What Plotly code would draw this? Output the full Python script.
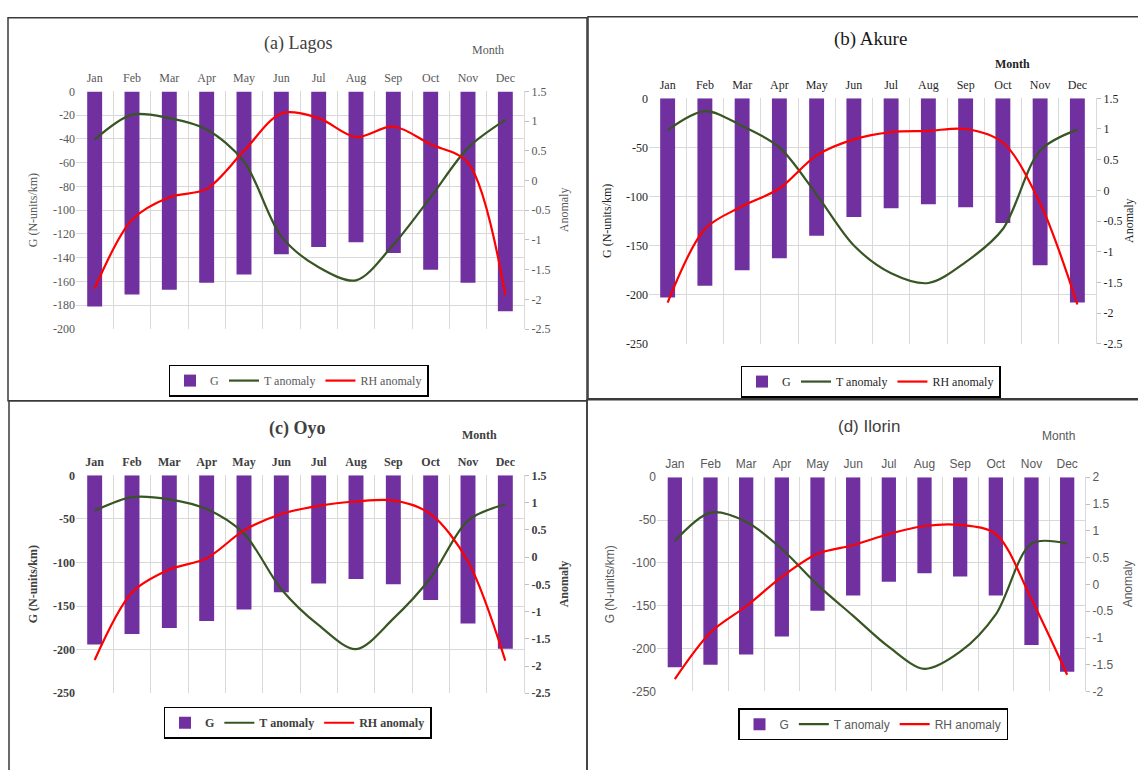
import plotly.graph_objects as go

W, H = 1138, 770

months = ["Jan", "Feb", "Mar", "Apr", "May", "Jun", "Jul", "Aug", "Sep", "Oct", "Nov", "Dec"]

# (a) Lagos
lagos_G = [-181, -171, -167, -161, -154, -137, -131, -127, -136, -150, -161, -185]
lagos_T = [0.69, 1.11, 1.05, 0.86, 0.32, -0.94, -1.46, -1.68, -1.08, -0.28, 0.55, 1.02]
lagos_RH = [-1.82, -0.66, -0.28, -0.14, 0.50, 1.13, 1.05, 0.73, 0.91, 0.61, 0.30, -1.93]
# (b) Akure
akure_G = [-203, -191, -175, -163, -140, -121, -112, -108, -111, -127, -170, -208]
akure_T = [0.98, 1.29, 1.05, 0.70, -0.07, -0.90, -1.35, -1.51, -1.17, -0.63, 0.65, 0.99]
akure_RH = [-1.83, -0.63, -0.26, 0.03, 0.57, 0.83, 0.95, 0.97, 1.00, 0.78, -0.21, -1.86]
# (c) Oyo
oyo_G = [-194, -182, -175, -167, -154, -134, -124, -119, -125, -143, -170, -199]
oyo_T = [0.85, 1.10, 1.06, 0.88, 0.43, -0.59, -1.25, -1.69, -1.13, -0.38, 0.67, 0.97]
oyo_RH = [-1.89, -0.65, -0.23, -0.02, 0.49, 0.79, 0.94, 1.02, 1.04, 0.79, -0.08, -1.90]
# (d) Ilorin
ilorin_G = [-222, -219, -207, -186, -156, -138, -122, -112, -116, -138, -196, -227]
ilorin_T = [0.81, 1.34, 1.17, 0.66, -0.01, -0.59, -1.17, -1.58, -1.26, -0.56, 0.76, 0.76]
ilorin_RH = [-1.77, -0.90, -0.41, 0.14, 0.57, 0.73, 0.94, 1.09, 1.11, 0.94, -0.28, -1.69]

# tick values
g_ticks_a = [0, -20, -40, -60, -80, -100, -120, -140, -160, -180, -200]
g_ticks_bcd = [0, -50, -100, -150, -200, -250]
anom_ticks_abc = [1.5, 1, 0.5, 0, -0.5, -1, -1.5, -2, -2.5]
anom_ticks_d = [2, 1.5, 1, 0.5, 0, -0.5, -1, -1.5, -2]

titles = ["(a) Lagos", "(b) Akure", "(c) Oyo", "(d) Ilorin"]
series_names = ["G", "T anomaly", "RH anomaly"]

PURPLE = "#7030A0"
GREEN = "#375623"
RED = "#FF0000"
GRID = "#D9D9D9"


def fmt(v):
    return "%g" % v


panels = [
    dict(G=lagos_G, T=lagos_T, RH=lagos_RH, title=titles[0], gt=g_ticks_a, gr=[-200, 0],
         at=anom_ticks_abc, ar=[-2.5, 1.5],
         px=(76, 524), py=(86, 328), font="Liberation Serif", color="#595959", tcolor="#404040", bold=False,
         tsize=18, tpos=(298, 37), mpos=(488, 44), mbold=False,
         leg=(168, 429, 368, 393), ytl=33, ytr=564, border=(8, 587, 11, 401)),
    dict(G=akure_G, T=akure_T, RH=akure_RH, title=titles[1], gt=g_ticks_bcd, gr=[-250, 0],
         at=anom_ticks_abc, ar=[-2.5, 1.5],
         px=(649, 1096), py=(93, 343), font="Liberation Serif", color="#1f1f1f", tcolor="#1a1a1a", bold=False,
         tsize=19, tpos=(870, 33), mpos=(1012, 58), mbold=True,
         leg=(740, 1001, 368, 395), ytl=607, ytr=1129, border=(588, 1145, 10, 399)),
    dict(G=oyo_G, T=oyo_T, RH=oyo_RH, title=titles[2], gt=g_ticks_bcd, gr=[-250, 0],
         at=anom_ticks_abc, ar=[-2.5, 1.5],
         px=(76, 524), py=(477, 699), font="Liberation Serif", color="#404040", tcolor="#404040", bold=True,
         tsize=18, tpos=(297, 429), mpos=(479, 436), mbold=True,
         leg=(134, 461, 715, 743), ytl=33, ytr=564, border=(9, 587, 401, 780)),
    dict(G=ilorin_G, T=ilorin_T, RH=ilorin_RH, title=titles[3], gt=g_ticks_bcd, gr=[-250, 0],
         at=anom_ticks_d, ar=[-2, 2],
         px=(657, 1085), py=(479, 697), font="Liberation Sans", color="#595959", tcolor="#404040", bold=False,
         tsize=17, tpos=(869, 427), mpos=(1058, 437), mbold=False,
         leg=(723, 1023, 716, 745), ytl=610, ytr=1128, border=(587, 1145, 400, 780)),
]

fig = go.Figure()
layout = dict(width=W, height=H, margin=dict(l=0, r=0, t=0, b=0), plot_bgcolor="white",
              paper_bgcolor="white", showlegend=True, barmode="overlay")
annotations = []
shapes = []


def b(text, bold):
    return "<b>%s</b>" % text if bold else text


for i, p in enumerate(panels):
    k = i + 1
    xa = "x" if k == 1 else "x%d" % k
    yl = 2 * i + 1
    yr = 2 * i + 2
    ya_l = "y" if yl == 1 else "y%d" % yl
    ya_r = "y%d" % yr
    leg = "legend" if k == 1 else "legend%d" % k
    fw = "bold" if p["bold"] else "normal"

    fig.add_trace(go.Bar(x=months, y=p["G"], name=series_names[0], marker=dict(color=PURPLE, line=dict(width=0)),
                         width=0.4, xaxis=xa, yaxis=ya_l, legend=leg))
    fig.add_trace(go.Scatter(x=months, y=p["T"], name=series_names[1], mode="lines",
                             line=dict(color=GREEN, width=2.2, shape="spline", smoothing=0.9),
                             xaxis=xa, yaxis=ya_r, legend=leg))
    fig.add_trace(go.Scatter(x=months, y=p["RH"], name=series_names[2], mode="lines",
                             line=dict(color=RED, width=2.2, shape="spline", smoothing=0.9),
                             xaxis=xa, yaxis=ya_r, legend=leg))

    xdom = [p["px"][0] / W, p["px"][1] / W]
    ydom = [1 - p["py"][1] / H, 1 - p["py"][0] / H]
    xkey = "xaxis" if k == 1 else "xaxis%d" % k
    ylkey = "yaxis" if yl == 1 else "yaxis%d" % yl
    yrkey = "yaxis%d" % yr
    tfont = dict(family=p["font"], color=p["color"], size=12, weight=fw)

    layout[xkey] = dict(domain=xdom, anchor=ya_l, side="top", type="category",
                        tickson="boundaries", showgrid=True, gridcolor=GRID, gridwidth=1,
                        ticks="", showline=False, zeroline=False, ticklabelstandoff=6,
                        tickfont=tfont, range=[-0.5, 11.5], fixedrange=True)
    layout[ylkey] = dict(domain=ydom, anchor=xa, range=p["gr"], tickvals=p["gt"],
                         ticktext=[fmt(v) for v in p["gt"]], showgrid=True, gridcolor=GRID,
                         zeroline=False, showline=False, ticks="", tickfont=tfont, fixedrange=True)
    layout[yrkey] = dict(overlaying=ya_l, anchor=xa, side="right", range=p["ar"], tickvals=p["at"],
                         ticktext=[fmt(v) for v in p["at"]], showgrid=False, zeroline=False,
                         showline=True, linecolor=GRID, ticks="outside", ticklen=4, tickcolor="#BFBFBF",
                         tickfont=tfont, fixedrange=True)

    lx0, lx1, ly0, ly1 = p["leg"]
    layout[leg] = dict(orientation="h", x=(lx0 + lx1) / 2 / W, xanchor="center",
                       y=1 - ((ly0 + ly1) / 2) / H, yanchor="middle", bgcolor="white",
                       bordercolor="#000000", borderwidth=1.5, font=tfont,
                       itemwidth=30, traceorder="normal")

    annotations.append(dict(text=b(p["title"], p["bold"]), x=p["tpos"][0] / W, y=1 - p["tpos"][1] / H,
                            xref="paper", yref="paper", showarrow=False, xanchor="center", yanchor="middle",
                            font=dict(family=p["font"], color=p["tcolor"], size=p["tsize"])))
    annotations.append(dict(text=b("Month", p["mbold"]), x=p["mpos"][0] / W, y=1 - p["mpos"][1] / H,
                            xref="paper", yref="paper", showarrow=False, xanchor="center", yanchor="middle",
                            font=dict(family=p["font"], color=p["color"], size=12)))
    ymid = 1 - ((p["py"][0] + p["py"][1]) / 2) / H
    annotations.append(dict(text=b("G (N-units/km)", p["bold"]), x=p["ytl"] / W, y=ymid, textangle=-90,
                            xref="paper", yref="paper", showarrow=False, xanchor="center", yanchor="middle",
                            font=dict(family=p["font"], color=p["color"], size=12)))
    annotations.append(dict(text=b("Anomaly", p["bold"]), x=p["ytr"] / W, y=ymid, textangle=-90,
                            xref="paper", yref="paper", showarrow=False, xanchor="center", yanchor="middle",
                            font=dict(family=p["font"], color=p["color"], size=12)))
    bx0, bx1, by0, by1 = p["border"]
    shapes.append(dict(type="rect", xref="paper", yref="paper", x0=bx0 / W, x1=bx1 / W,
                       y0=1 - by1 / H, y1=1 - by0 / H, line=dict(color="#3a3a3a", width=1.5),
                       fillcolor="rgba(0,0,0,0)", layer="above"))

layout["annotations"] = annotations
layout["shapes"] = shapes
fig.update_layout(**layout)

fig.write_html("out.html", config={"displayModeBar": False},
               post_script="document.body.style.margin='0';document.body.style.overflow='hidden';")
